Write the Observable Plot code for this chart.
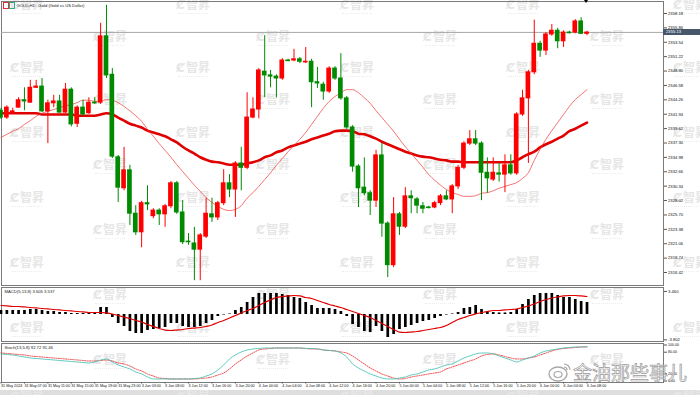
<!DOCTYPE html>
<html><head><meta charset="utf-8">
<script src="https://cdn.jsdelivr.net/npm/d3@7"></script>
<script src="https://cdn.jsdelivr.net/npm/@observablehq/plot@0.6"></script>
<style>
body{margin:0;background:#fff;}
#wrap{position:relative;width:700px;height:395px;overflow:hidden;font-family:"Liberation Sans",Arial,sans-serif;background:#fff;}
.layer{position:absolute;left:0;z-index:2;}
.wm{position:absolute;z-index:1;color:#e6e6e6;font:700 12px "Noto Sans CJK SC",sans-serif;line-height:11px;white-space:nowrap;width:40px;text-align:center;}
.wm i{display:block;margin:1px auto 0;width:30px;height:0;border-top:1px dotted #ececec;}
.wm b{font:700 12px "DejaVu Sans";margin-right:1px;}
</style></head><body><div id="wrap"></div>
<script>
// ---------------- data ----------------
const title = "GOLD,H1:  Gold (Gold vs US Dollar)";
const macdLabel = "MACD(5,13,8) 3.605 3.537";
const stochLabel = "Stoch(13,5,8) 92.72 91.46";
const bidPrice = 2355.13;
const priceTicks = [2316.42,2318.74,2321.06,2323.38,2325.70,2328.02,2330.34,2332.66,2334.98,2337.30,2339.62,2341.94,2344.26,2346.58,2348.90,2351.22,2353.54,2355.86,2358.18];
const macdTicks = [3.460, -3.802];
const stochTicks = [100, 80, 20, 0];
const timeLabels = ["31 May 2024","31 May 07:00","31 May 11:00","31 May 15:00","31 May 19:00","31 May 23:00","3 Jun 03:00","3 Jun 08:00","3 Jun 12:00","3 Jun 16:00","3 Jun 20:00","4 Jun 00:00","4 Jun 04:00","4 Jun 08:00","4 Jun 12:00","4 Jun 16:00","4 Jun 20:00","5 Jun 00:00","5 Jun 04:00","5 Jun 08:00","5 Jun 12:00","5 Jun 16:00","5 Jun 20:00","6 Jun 00:00","6 Jun 04:00","6 Jun 08:00"];

const open = [
2342.5,2341.4,2342.2,2343.0,2344.2,2343.8,2346.2,2346.4,2342.4,2343.7,
2344.0,2342.2,2345.9,2340.4,2343.0,2342.1,2343.8,2343.8,2354.5,2348.3,
2335.0,2330.0,2332.9,2325.9,2322.9,2327.6,2325.5,2326.4,2325.8,2327.1,
2330.8,2326.1,2321.4,2321.1,2320.1,2322.2,2325.8,2325.3,2327.6,2330.8,
2329.8,2334.0,2333.3,2341.4,2342.7,2348.8,2348.2,2348.0,2347.7,2350.6,
2350.6,2350.8,2350.3,2350.4,2347.1,2346.7,2345.6,2349.3,2347.7,2344.5,
2339.8,2333.5,2330.1,2329.2,2328.0,2335.3,2324.3,2317.6,2325.8,2323.8,
2328.7,2328.2,2327.1,2326.9,2326.9,2327.6,2328.7,2328.2,2330.3,2333.3,
2337.2,2337.9,2337.2,2332.5,2331.4,2332.4,2332.2,2333.7,2332.4,2341.9,
2344.5,2348.7,2353.3,2352.2,2354.8,2355.4,2353.7,2355.1,2355.1,2356.9,
2354.9];
const high = [
2342.9,2343.3,2342.9,2344.6,2346.2,2347.4,2347.4,2347.7,2344.2,2345.0,
2345.0,2346.9,2346.2,2343.3,2344.2,2344.6,2344.6,2356.6,2359.5,2349.3,
2335.3,2336.6,2333.7,2327.2,2327.9,2330.4,2326.7,2326.7,2327.4,2331.1,
2331.1,2328.0,2322.7,2323.7,2322.7,2328.4,2328.4,2327.9,2333.0,2332.2,
2334.3,2336.6,2345.4,2344.6,2349.3,2354.6,2349.0,2348.3,2350.9,2350.8,
2352.4,2351.1,2352.7,2350.8,2349.5,2347.1,2349.6,2349.6,2351.7,2344.8,
2340.1,2333.8,2334.9,2329.6,2336.1,2337.2,2324.6,2328.5,2326.1,2330.1,
2329.6,2328.5,2327.7,2327.1,2327.9,2329.0,2329.6,2330.6,2333.7,2337.5,
2339.3,2339.3,2337.5,2334.9,2334.9,2334.0,2335.4,2335.4,2342.2,2345.8,
2349.0,2357.1,2353.7,2355.1,2356.4,2355.8,2355.4,2355.3,2357.2,2357.5,
2355.3];
const low = [
2341.1,2341.1,2341.9,2342.9,2342.5,2343.7,2346.1,2342.2,2337.2,2343.0,
2342.1,2342.1,2339.9,2339.8,2341.6,2341.9,2343.5,2343.5,2347.7,2334.8,
2327.7,2329.6,2324.0,2322.4,2320.4,2326.4,2325.1,2324.0,2323.7,2326.7,
2325.8,2320.9,2320.8,2315.1,2315.1,2321.9,2324.5,2324.8,2327.2,2328.5,
2325.3,2329.6,2333.0,2341.2,2341.2,2344.6,2346.2,2344.6,2347.4,2350.4,
2350.4,2350.1,2350.1,2343.0,2346.1,2344.2,2345.3,2347.4,2344.2,2339.5,
2332.6,2326.9,2328.8,2325.6,2326.9,2322.1,2315.6,2317.2,2322.4,2323.5,
2325.9,2325.9,2325.9,2326.7,2326.7,2327.2,2328.0,2325.9,2329.8,2333.0,
2336.9,2336.9,2328.0,2329.2,2331.1,2331.0,2329.3,2332.1,2332.1,2341.6,
2334.0,2348.3,2351.1,2351.4,2354.5,2352.5,2352.7,2354.9,2354.9,2354.8,
2354.6];
const close = [
2341.4,2343.0,2342.4,2344.2,2344.0,2346.2,2346.4,2342.4,2343.7,2344.0,
2342.2,2345.9,2340.3,2343.0,2341.9,2343.8,2343.7,2354.5,2348.2,2335.1,
2330.1,2332.9,2325.9,2322.9,2327.6,2327.4,2326.4,2325.8,2327.1,2330.8,
2326.1,2321.3,2321.3,2320.1,2322.4,2325.9,2325.3,2327.6,2330.8,2329.8,
2334.0,2333.3,2341.4,2342.7,2349.0,2348.2,2348.0,2347.7,2350.6,2350.5,
2350.8,2350.4,2350.4,2347.1,2346.9,2345.6,2349.3,2347.7,2344.5,2339.8,
2333.5,2330.0,2329.2,2328.0,2335.3,2324.3,2317.6,2325.8,2323.8,2328.7,
2328.4,2327.2,2326.7,2326.8,2327.6,2328.7,2328.2,2330.3,2333.3,2337.2,
2337.9,2337.2,2332.5,2331.6,2332.5,2332.2,2333.7,2332.4,2341.9,2344.5,
2348.7,2353.3,2352.2,2354.8,2355.4,2353.7,2355.1,2355.0,2356.9,2354.9,
2355.1];
const maSlow = [
2342.1,2342.1,2342.1,2342.1,2342.1,2342.1,2342.1,2341.9,2341.9,2341.9,
2341.9,2341.9,2341.9,2341.7,2341.7,2341.7,2341.7,2341.9,2342.1,2341.9,
2341.4,2340.9,2340.4,2340.1,2339.8,2339.3,2339.0,2338.7,2338.4,2337.9,
2337.4,2336.7,2336.1,2335.6,2335.0,2334.6,2334.3,2334.2,2334.0,2333.8,
2333.8,2333.8,2334.0,2334.2,2334.5,2335.0,2335.3,2335.8,2336.1,2336.6,
2336.9,2337.2,2337.5,2337.9,2338.2,2338.5,2338.8,2339.2,2339.3,2339.3,
2339.2,2338.8,2338.7,2338.4,2338.0,2337.5,2337.1,2336.7,2336.3,2335.9,
2335.6,2335.3,2335.1,2335.0,2334.8,2334.6,2334.5,2334.3,2334.3,2334.2,
2334.2,2334.2,2334.2,2334.2,2334.2,2334.2,2334.2,2334.2,2334.5,2335.0,
2335.5,2335.9,2336.6,2337.1,2337.5,2338.0,2338.5,2339.2,2339.6,2340.1,
2340.6];
const maFast = [
2338.2,2338.7,2339.2,2339.6,2340.3,2340.9,2341.6,2342.1,2342.4,2342.7,
2343.0,2343.3,2343.5,2343.8,2344.2,2344.2,2344.0,2344.0,2344.3,2344.2,
2343.8,2343.2,2342.5,2341.7,2340.8,2339.5,2338.4,2337.2,2336.1,2335.0,
2333.8,2332.7,2331.6,2330.5,2329.5,2328.5,2327.7,2327.1,2326.6,2326.4,
2326.6,2327.2,2328.4,2329.3,2330.3,2331.4,2332.5,2333.7,2334.8,2335.9,
2336.9,2337.9,2339.0,2340.3,2341.6,2342.9,2344.0,2344.8,2345.4,2345.9,
2345.9,2345.4,2344.6,2343.7,2342.5,2341.4,2340.3,2339.2,2337.9,2336.7,
2335.6,2334.5,2333.4,2332.2,2331.3,2330.5,2329.8,2329.3,2329.0,2328.7,
2328.7,2328.8,2329.2,2329.3,2329.6,2330.0,2330.3,2330.6,2330.9,2331.6,
2332.5,2334.5,2336.3,2337.9,2339.3,2340.6,2341.9,2343.2,2344.3,2345.1,
2345.9];
const macdHist = [
0.60,0.60,0.60,0.60,0.60,0.75,0.75,0.60,0.45,0.45,0.30,0.30,0.15,0.15,0.15,0.15,0.15,1.05,1.05,-0.45,
-1.35,-1.80,-2.55,-2.85,-2.85,-2.40,-2.25,-2.10,-1.95,-1.35,-1.35,-1.80,-1.95,-1.95,-1.80,-1.35,-0.90,-0.30,-0.08,0.08,
0.60,1.05,1.80,2.55,3.15,3.15,3.15,3.15,3.00,2.85,2.55,2.40,1.80,1.35,0.90,0.90,0.90,0.75,0.45,-0.30,
-1.50,-1.95,-2.55,-2.70,-1.80,-2.55,-3.45,-3.00,-2.25,-1.95,-1.65,-1.35,-1.05,-0.90,-0.60,-0.30,-0.08,0.08,0.30,0.90,
1.05,1.35,0.75,0.45,0.30,0.23,0.23,0.30,0.75,1.50,2.25,2.85,3.15,3.15,3.15,2.85,2.55,2.55,2.25,1.95,1.80];
const macdSignal = [
1.35,1.28,1.20,1.20,1.13,1.05,0.98,0.90,0.83,0.75,
0.68,0.60,0.53,0.45,0.38,0.30,0.30,0.30,0.23,0.08,
-0.15,-0.38,-0.60,-0.90,-1.13,-1.50,-1.80,-2.10,-2.33,-2.40,
-2.33,-2.25,-2.10,-2.03,-1.95,-1.80,-1.58,-1.20,-0.90,-0.53,
-0.15,0.23,0.60,0.90,1.35,1.80,2.18,2.55,2.70,2.78,
2.85,2.78,2.55,2.40,2.10,1.80,1.50,1.28,1.05,0.75,
0.45,0.15,-0.15,-0.45,-0.90,-1.35,-1.80,-2.25,-2.63,-2.70,
-2.63,-2.55,-2.40,-2.25,-2.10,-1.95,-1.65,-1.20,-0.75,-0.45,
-0.15,0.08,0.30,0.45,0.60,0.60,0.68,0.75,0.83,1.05,
1.28,1.58,1.95,2.25,2.48,2.63,2.78,2.85,2.85,2.78,
2.70];
const stochMain = [
75.1,73.7,72.3,69.5,66.7,63.9,62.6,61.2,59.8,58.4,
57.0,55.6,54.2,52.8,51.4,50.0,52.8,58.4,61.2,52.8,
44.5,38.9,33.4,25.0,19.5,11.1,5.6,5.6,5.6,5.6,
5.6,5.6,5.6,7.0,8.3,13.9,19.5,30.6,44.5,61.2,
72.3,80.6,86.2,89.0,90.4,91.7,91.7,91.7,91.7,91.7,
91.7,91.7,90.4,90.4,89.0,86.2,84.8,83.4,77.8,66.7,
47.3,36.1,27.8,19.5,13.9,8.3,5.6,5.6,8.3,11.1,
16.7,19.5,25.0,30.6,33.4,38.9,44.5,47.3,55.6,63.9,
69.5,75.1,77.8,77.8,75.1,69.5,63.9,58.4,52.8,58.4,
63.9,69.5,77.8,83.4,86.2,89.0,91.7,93.1,94.5,94.5,
95.9];
const stochSignal = [
77.8,76.5,75.1,73.7,72.3,69.5,68.1,66.7,65.3,63.9,
62.6,61.2,59.8,58.4,57.0,55.6,55.6,57.0,58.4,55.6,
50.0,47.3,41.7,33.4,27.8,19.5,13.9,8.3,7.0,5.6,
5.6,5.6,5.6,5.6,7.0,8.3,11.1,16.7,22.2,33.4,
47.3,58.4,69.5,77.8,86.2,89.0,90.4,91.7,91.7,91.7,
91.7,91.7,90.4,89.0,89.0,86.2,84.8,83.4,80.6,77.8,
69.5,58.4,47.3,36.1,27.8,19.5,13.9,8.3,5.6,7.0,
11.1,13.9,16.7,19.5,22.2,25.0,33.4,38.9,44.5,50.0,
55.6,61.2,69.5,73.7,75.1,72.3,68.1,63.9,61.2,61.2,
63.9,66.7,72.3,77.8,83.4,87.6,90.4,91.7,93.1,94.5,
94.5];

// ---------------- layout / style ----------------
const UP = "#ff0000", DOWN = "#008a00";
const wrap = document.getElementById("wrap");
const idx = d3.range(open.length);
const bars = idx.map(i => ({i, o: open[i], h: high[i], l: low[i], c: close[i], up: close[i] >= open[i]}));
const xCfg = {type: "linear", domain: [0, open.length - 1], range: [0.5, 586.5], axis: null};
const baseStyle = {background: "transparent", fontFamily: "Liberation Sans, Arial, sans-serif", fontSize: "4.2px", color: "#111", overflow: "visible"};

// watermarks
const wmRows = [
  {xs: [27,193,357,523,690], ys: [5,68,133,198,263,328,397]},
  {xs: [110,273,440,607], ys: [37,100,165,230,295,360]}
];
for (const r of wmRows) for (const x of r.xs) for (const y of r.ys) {
  const d = document.createElement("div");
  d.className = "wm";
  d.style.left = (x - 20) + "px"; d.style.top = (y - 7) + "px";
  d.innerHTML = "<b>Ȼ</b>智昇<i></i>";
  wrap.appendChild(d);
}

function place(el, top) { el.classList.add("layer"); el.style.top = top + "px"; wrap.appendChild(el); return el; }

// main price panel
const main = Plot.plot({
  width: 700, height: 286, marginLeft: 1, marginRight: 37, marginTop: 1, marginBottom: 1,
  style: baseStyle,
  x: xCfg,
  y: {domain: [priceTicks[0], priceTicks[priceTicks.length - 1]], range: [272, 13], axis: null},
  marks: [
    Plot.frame({stroke: "#7a7a7a"}),
    Plot.ruleY([bidPrice], {stroke: "#a8a8a8", strokeWidth: 1}),
    Plot.line(idx, {x: i => i, y: i => maSlow[i], stroke: "#e00000", strokeWidth: 2.6, curve: "monotone-x"}),
    Plot.line(idx, {x: i => i, y: i => maFast[i], stroke: "#f03c3c", strokeWidth: 0.8, strokeOpacity: 0.9, curve: "monotone-x"}),
    Plot.ruleX(bars, {x: "i", y1: "l", y2: "h", stroke: d => d.up ? UP : DOWN, strokeWidth: 1}),
    Plot.rect(bars, {x1: d => d.i - 0.4, x2: d => d.i + 0.4, y1: "o", y2: "c", fill: d => d.up ? UP : DOWN, insetTop: -0.5, insetBottom: -0.5}),
    Plot.axisY(priceTicks, {anchor: "right", tickSize: 3, tickPadding: 1.5, tickFormat: d => d.toFixed(2), stroke: "#555", fontSize: 4.2}),
    Plot.text([title], {frameAnchor: "top-left", dx: 15, dy: 3, lineAnchor: "top", fill: "#222", fontSize: 4.2})
  ]
});
place(main, 0);

// bid label box
const yb = main.scale("y").apply(bidPrice);
const box = document.createElement("div");
box.style.cssText = `position:absolute;z-index:3;left:663px;top:${yb - 3}px;width:37px;height:6px;background:#46566b;color:#fff;font:4.2px 'Liberation Sans';line-height:6px;padding-left:3px;box-sizing:border-box;`;
box.textContent = bidPrice.toFixed(2);
wrap.appendChild(box);

// chart icon + shift marker
const icon = document.createElement("div");
icon.style.cssText = "position:absolute;z-index:3;left:3px;top:2px;width:4px;height:5px;border:1px solid #d33;";
wrap.appendChild(icon);
const icon2 = document.createElement("div");
icon2.style.cssText = "position:absolute;z-index:3;left:9px;top:2px;width:4px;height:5px;border:1px solid #3a8;";
wrap.appendChild(icon2);
const tri = document.createElement("div");
tri.style.cssText = "position:absolute;z-index:3;left:584px;top:0px;width:0;height:0;border-left:2.5px solid transparent;border-right:2.5px solid transparent;border-top:3px solid #000;";
wrap.appendChild(tri);

// MACD panel
const macd = Plot.plot({
  width: 700, height: 56, marginLeft: 1, marginRight: 37, marginTop: 1, marginBottom: 1,
  style: baseStyle,
  x: xCfg,
  y: {domain: [-3.9, 4.05], range: [54, 1], axis: null},
  marks: [
    Plot.frame({stroke: "#7a7a7a"}),
    Plot.ruleX(idx, {x: i => i, y1: 0, y2: i => macdHist[i], stroke: "#000", strokeWidth: 2.7}),
    Plot.line(idx, {x: i => i, y: i => macdSignal[i], stroke: "#e00000", strokeWidth: 1.2, curve: "monotone-x"}),
    Plot.axisY(macdTicks, {anchor: "right", tickSize: 3, tickPadding: 1.5, tickFormat: d => d.toFixed(3), stroke: "#555", fontSize: 4.2}),
    Plot.text([macdLabel], {frameAnchor: "top-left", dx: 3, dy: 2.5, lineAnchor: "top", fill: "#222", fontSize: 4.2})
  ]
});
place(macd, 286);

// Stochastic panel + time axis
const stoch = Plot.plot({
  width: 700, height: 53, marginLeft: 1, marginRight: 37, marginTop: 1, marginBottom: 13,
  style: baseStyle,
  x: xCfg,
  y: {domain: [0, 100], range: [38.5, 2.5], axis: null},
  marks: [
    Plot.frame({stroke: "#7a7a7a"}),
    Plot.line(idx, {x: i => i, y: i => stochSignal[i], stroke: "#ee2222", strokeWidth: 0.8, strokeDasharray: "1.2,1.2", curve: "monotone-x"}),
    Plot.line(idx, {x: i => i, y: i => stochMain[i], stroke: "#3cbfb0", strokeWidth: 0.8, curve: "monotone-x"}),
    Plot.axisY(stochTicks, {anchor: "right", tickSize: 3, tickPadding: 1.5, tickFormat: d => d.toFixed(2), stroke: "#555", fontSize: 3.6}),
    Plot.axisX(timeLabels.map((_, k) => 4 * k), {anchor: "bottom", tickSize: 1.5, tickPadding: 0.8, textAnchor: "start", tickFormat: d => timeLabels[d / 4], stroke: "#555", fontSize: 3.7}),
    Plot.text([stochLabel], {frameAnchor: "top-left", dx: 3, dy: 2.5, lineAnchor: "top", fill: "#222", fontSize: 4.2})
  ]
});
place(stoch, 342);

// bottom strip
const strip = document.createElement("div");
strip.style.cssText = "position:absolute;z-index:0;left:0;top:390px;width:700px;height:5px;background:#dedede;";
wrap.appendChild(strip);

// weibo watermark
const wb = document.createElement("div");
wb.style.cssText = "position:absolute;z-index:4;left:548px;top:361px;white-space:nowrap;";
wb.innerHTML = `<svg width="24" height="22" style="vertical-align:top;margin-right:1px"><ellipse cx="10" cy="13" rx="9" ry="7" fill="none" stroke="#a8a8a8" stroke-width="1.4"/><ellipse cx="10" cy="13.5" rx="4" ry="3" fill="none" stroke="#a8a8a8" stroke-width="1.2"/><path d="M16 3 A6 6 0 0 1 22 9 M16 6 A3 3 0 0 1 19 9" fill="none" stroke="#a8a8a8" stroke-width="1.2"/></svg><span style="font:400 19px 'Noto Sans CJK SC';color:rgba(255,255,255,0.55);-webkit-text-stroke:0.7px #9a9a9a;line-height:22px;vertical-align:top;">金油那些事儿</span>`;
wrap.appendChild(wb);
</script>
</body></html>
